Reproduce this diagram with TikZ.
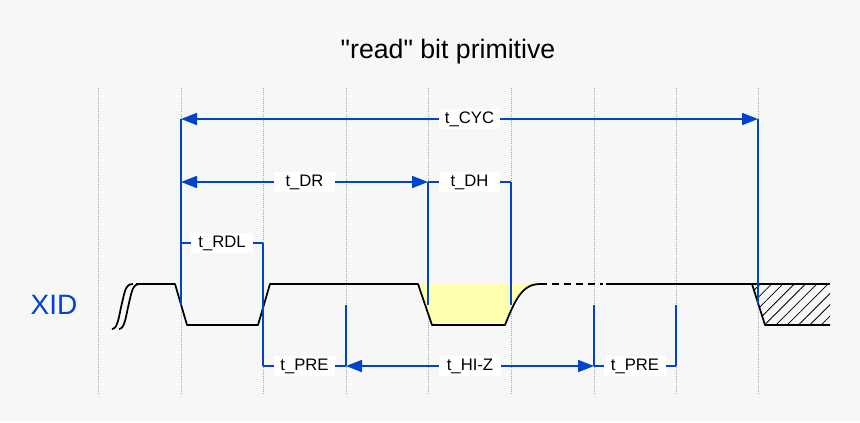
\documentclass[tikz,border=0pt]{standalone}
\usepackage{fontspec}
\setmainfont{Liberation Sans}
\newfontfamily\tfont{Liberation Sans}[Mapping=,Ligatures=Common]
\usetikzlibrary{arrows.meta,patterns.meta}
\definecolor{bl}{HTML}{0044CC}
\definecolor{yl}{HTML}{FFFFB0}
\begin{document}
\begin{tikzpicture}[x=0.75pt,y=-0.75pt,
 grid/.style={gray!70,densely dotted,line width=0.6pt},
 sig/.style={black,line width=1.3pt,line join=round},
 dim/.style={bl,line width=1.3pt},
 arr/.style={dim,{Triangle[length=12pt,width=9pt]}-{Triangle[length=12pt,width=9pt]}},
 lab/.style={fill=white,text=black,font=\fontsize{12.5}{14}\selectfont,inner sep=2pt,minimum width=46pt}]
\fill[black!3] (0,0) rectangle (860,422);
\useasboundingbox (0,0) rectangle (860,422);
\node (title) at (448,52) {\tfont\fontsize{20}{23}\selectfont "read" bit primitive};
\node[text=bl] (xid) at (54,305) {\fontsize{21}{25}\selectfont XID};
\foreach \x in {98,181,263,346,428,511,594,676,758} \draw[grid] (\x,88) -- (\x,395);
% signal
\fill[yl] (418,284) -- (432,325) -- (505,325) .. controls (515,300) and (522,284) .. (540,284) -- cycle;
\fill[pattern={Lines[angle=45,distance=6pt,line width=0.6pt]}] (752,284) -- (765,325) -- (830,325) -- (830,284) -- cycle;
\draw[sig] (112,329) .. controls (118,329) and (119,315) .. (122,303) .. controls (125,290) and (126,284) .. (133,284);
\draw[sig] (119,329) .. controls (125,329) and (126,315) .. (129,303) .. controls (132,290) and (133,284) .. (140,284);
\draw[sig] (136,284) -- (175,284) -- (187,325) -- (258,325) -- (270,284) -- (418,284) -- (432,325) -- (505,325) .. controls (515,300) and (522,284) .. (540,284);
\draw[sig,dash pattern=on 5pt off 4pt] (540,284) -- (603,284);
\draw[sig] (606,284) -- (752,284) -- (765,325) -- (830,325);
\draw[sig] (752,284) -- (830,284);
% dimensions
\coordinate (c1) at (181,119); \coordinate (c2) at (758,119);
\draw[arr] (c1) -- node[lab]{t\_CYC} (c2);
\draw[dim] (c1) -- (181,305); \draw[dim] (c2) -- (758,305);
\coordinate (d1) at (181,182); \coordinate (d2) at (428,182); \coordinate (d3) at (511,182);
\draw[arr] (d1) -- node[lab]{t\_DR} (d2);
\draw[dim] (d2) -- node[lab]{t\_DH} (d3);
\draw[dim] (d2) -- (428,305); \draw[dim] (d3) -- (511,305);
\coordinate (r1) at (181,243); \coordinate (r2) at (263,243);
\draw[dim] (r1) -- node[lab]{t\_RDL} (r2);
\coordinate (p1) at (263,366); \coordinate (p2) at (346,366);
\coordinate (p3) at (594,366); \coordinate (p4) at (676,366);
\draw[dim] (r2) -- (p1);
\draw[dim] (p1) -- node[lab]{t\_PRE} (p2);
\draw[arr] (p2) -- node[lab]{t\_HI-Z} (p3);
\draw[dim] (p3) -- node[lab]{t\_PRE} (p4);
\draw[dim] (346,305) -- (p2); \draw[dim] (594,305) -- (p3); \draw[dim] (676,305) -- (p4);
\end{tikzpicture}
\end{document}
